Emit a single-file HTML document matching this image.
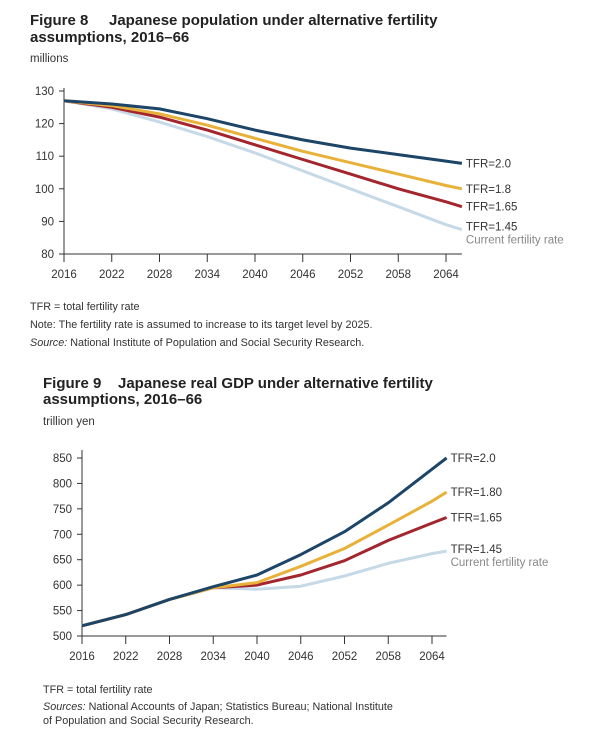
<!DOCTYPE html>
<html><head><meta charset="utf-8"><style>
body{margin:0;background:#fff;font-family:"Liberation Sans",sans-serif;}
svg{display:block}
</style></head><body>
<svg id="s" width="613" height="743" xmlns="http://www.w3.org/2000/svg" font-family="Liberation Sans, sans-serif">
<g font-weight="bold" font-size="15" fill="#222">
<text x="30" y="25">Figure 8<tspan x="109">Japanese population under alternative fertility</tspan></text>
<text x="30" y="42">assumptions, 2016–66</text></g>
<text x="30" y="62" font-size="11.5" fill="#333">millions</text>
<g id="c1"></g>
<g font-size="10.8" fill="#333">
<text x="30" y="310">TFR = total fertility rate</text>
<text x="30" y="328">Note: The fertility rate is assumed to increase to its target level by 2025.</text>
<text x="30" y="346"><tspan font-style="italic">Source:</tspan> National Institute of Population and Social Security Research.</text></g>
<g font-weight="bold" font-size="15" fill="#222">
<text x="43" y="388">Figure 9<tspan x="118">Japanese real GDP under alternative fertility</tspan></text>
<text x="43" y="404">assumptions, 2016–66</text></g>
<text x="43" y="425" font-size="11.5" fill="#333">trillion yen</text>
<g id="c2"></g>
<g font-size="10.8" fill="#333">
<text x="43" y="693">TFR = total fertility rate</text>
<text x="43" y="710"><tspan font-style="italic">Sources:</tspan> National Accounts of Japan; Statistics Bureau; National Institute</text>
<text x="43" y="724">of Population and Social Security Research.</text></g>
</svg>
<script>
const years=[2016,2022,2028,2034,2040,2046,2052,2058,2064,2066];
const xTicks=[2016,2022,2028,2034,2040,2046,2052,2058,2064];
const popTicks=[80,90,100,110,120,130];
const gdpTicks=[500,550,600,650,700,750,800,850];
const pop20=[127,126,124.5,121.5,118,115,112.5,110.5,108.5,107.8];
const pop18=[127,125.5,123,119.5,115.5,111.5,108,104.5,101,100];
const pop165=[127,125,122,118,113.5,109,104.5,100,96,94.5];
const pop145=[127,124.5,120.5,116,111,105.5,100,94.5,89,87.5];
const gdp20=[520,542,572,597,620,660,705,762,828,850];
const gdp18=[520,542,572,595,605,637,672,718,765,783];
const gdp165=[520,542,572,595,600,620,648,688,722,733];
const gdp145=[520,542,572,595,592,598,618,643,662,667];
const labels1=["TFR=2.0","TFR=1.8","TFR=1.65","TFR=1.45"];
const labels2=["TFR=2.0","TFR=1.80","TFR=1.65","TFR=1.45"];
const colors=["#1d4567","#e8b23a","#a3262e","#c6d9e7"];
const NS="http://www.w3.org/2000/svg";
function mk(p,t,a){const e=document.createElementNS(NS,t);for(const k in a)e.setAttribute(k,a[k]);p.appendChild(e);return e;}
function chart(g,o){
 const X=y=>o.x0+(y-2016)*(o.x1-o.x0)/48;
 const Y=v=>o.yb+(v-o.vmin)*(o.yt-o.yb)/(o.vmax-o.vmin);
 const ax=mk(g,'line',{x1:X(2016),x2:X(2016),y1:o.axTop,y2:o.yb,stroke:'#333','stroke-width':1});
 
 
 const bx=mk(g,'line',{x1:X(2016),x2:X(2066),y1:o.yb,y2:o.yb,stroke:'#333','stroke-width':1});
 
 
 o.ticks.forEach(v=>{
  const t=mk(g,'line',{x1:X(2016)-5,x2:X(2016),y1:Y(v),y2:Y(v),stroke:'#333'});
  
  
  const l=mk(g,'text',{x:X(2016)-10,y:Y(v)+4,'text-anchor':'end','font-size':11.5,fill:'#333'});l.textContent=v;
  
  
 });
 xTicks.forEach(y=>{
  const t=mk(g,'line',{x1:X(y),x2:X(y),y1:o.yb,y2:o.yb+8,stroke:'#333'});
  
  
  const l=mk(g,'text',{x:X(y),y:o.yb+24,'text-anchor':'middle','font-size':11.5,fill:'#333'});l.textContent=y;
  
  
 });
 for(let i=3;i>=0;i--){
  const s=o.series[i];
  let d='';years.forEach((y,j)=>{d+=(j?'L':'M')+X(y).toFixed(1)+','+Y(s[j]).toFixed(1);});
  const p=mk(g,'path',{d:d,fill:'none',stroke:colors[i],'stroke-width':3,'stroke-linejoin':'round'});
  
  
  const ly=Y(s[s.length-1])+4+(o.off[i]||0);
  const l=mk(g,'text',{x:X(2066)+4,y:ly,'font-size':11.5,fill:'#333'});l.textContent=o.labels[i];
  
  
  if(i==3){const c=mk(g,'text',{x:X(2066)+4,y:ly+13,'font-size':11.5,fill:'#888'});c.textContent='Current fertility rate';
  
  }
 }
}
chart(document.getElementById('c1'),{x0:64,x1:446,yb:254,yt:91,vmin:80,vmax:130,axTop:88,ticks:popTicks,series:[pop20,pop18,pop165,pop145],labels:labels1,off:[0,0,0,-3]});
chart(document.getElementById('c2'),{x0:82,x1:432,yb:636,yt:458,vmin:500,vmax:850,axTop:450,ticks:gdpTicks,series:[gdp20,gdp18,gdp165,gdp145],labels:labels2,off:[0,0,0,-2]});
</script>
</body></html>
